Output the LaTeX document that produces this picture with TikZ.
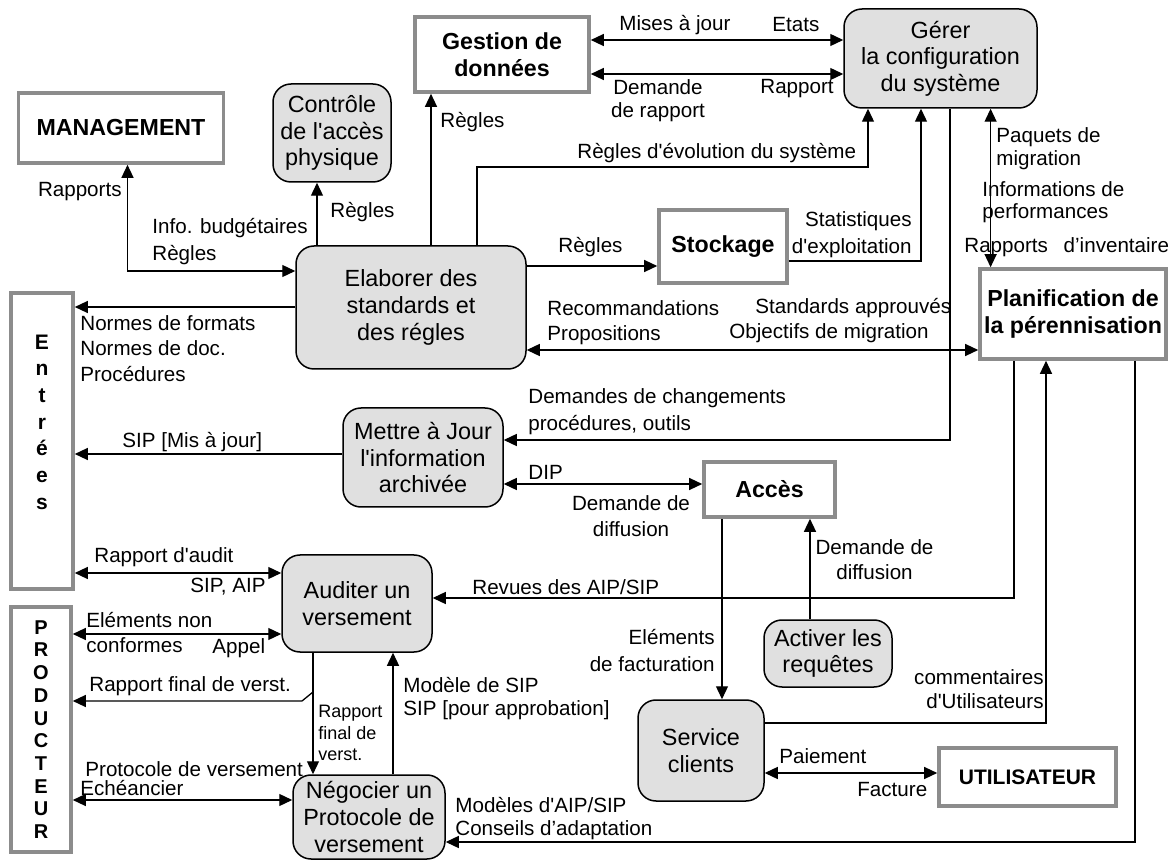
\documentclass[tikz,border=0pt]{standalone}
\usepackage{fontspec}
\setmainfont{Liberation Sans}
\usepackage{tikz}
\usetikzlibrary{arrows.meta}
\definecolor{framegray}{RGB}{140,140,140}
\definecolor{procgray}{RGB}{224,224,224}
\newcommand{\aps}{\textquotesingle}
\tikzset{
	% Two box styles: external entities (grey frame) and functions (rounded, filled)
	entity box/.style={draw=framegray,line width=1.8pt,fill=white,inner sep=0pt,align=center,font=\fontsize{11.6}{13.5}\selectfont\bfseries},
	process node/.style={draw,line width=0.75pt,rounded corners=9pt,fill=procgray,inner sep=0pt,align=center,font=\fontsize{11.7}{13.3}\selectfont},
	% data flows, one way or both ways
	flow/.style={line width=0.65pt,-{Triangle[length=6.5pt,width=6pt]}},
	both flow/.style={line width=0.65pt,{Triangle[length=6.5pt,width=6pt]}-{Triangle[length=6.5pt,width=6pt]}},
	flow label/.style={inner sep=0pt,align=left,font=\fontsize{10.3}{12}\selectfont}
}

\begin{document}
\begin{tikzpicture}[x=0.5pt,y=-0.5pt]
	% macro for placing the flow labels
	\newcommand{\flowlabel}[4][anchor=west]{\node[flow label,#1](#2)at(#3){#4};}
	\useasboundingbox (0,0) rectangle (1169,861);
	
	% external entities
	\node(mgmt)[entity box,minimum width=102.5pt,minimum height=35pt] at (121,128){MANAGEMENT};
	\node(gestion)[entity box,minimum width=87pt,minimum height=37.5pt] at (502,54.5){Gestion de\\donn\'ees};
	\node(stock)[entity box,minimum width=64pt,minimum height=36.5pt] at (723,246.5){Stockage};
	\node(planif)[entity box,minimum width=93pt,minimum height=45pt] at (1073,314){Planification de\\la pérennisation};
	\node(entrees)[entity box,minimum width=31pt,minimum height=148pt] at (42,441){};
	\node(entreestext)[font=\fontsize{10.5}{13.35}\selectfont\bfseries,align=center,inner sep=0pt] at (42,422){E\\n\\t\\r\\é\\e\\s};
	\node(prod)[entity box,minimum width=30pt,minimum height=122.5pt,font=\fontsize{10}{11.35}\selectfont\bfseries] at (41,729.5){P\\R\\O\\D\\U\\C\\T\\E\\U\\R};
	\node(acces)[entity box,minimum width=65.5pt,minimum height=27.5pt] at (769.5,489.5){Accès};
	\node(user)[entity box,minimum width=88.5pt,minimum height=29pt,font=\fontsize{10.5}{12.5}\selectfont\bfseries] at (1027.5,777){UTILISATEUR};
	
	% functions
	\node(ctrl)[process node,minimum width=59pt,minimum height=49pt] at (332,133){Contrôle\\de l\aps accès\\physique};
	\node(gerer)[process node,minimum width=96.5pt,minimum height=49.5pt] at (940.5,58.5){Gérer\\la configuration\\du système};
	\node(elab)[process node,minimum width=115pt,minimum height=61.5pt] at (411,307.5){Elaborer des\\standards et\\des régles};
	\node(mettre)[process node,minimum width=80pt,minimum height=49.5pt] at (423,457.5){Mettre à Jour\\l\aps information\\archivée};
	\node(auditer)[process node,minimum width=75pt,minimum height=48.5pt] at (357,603.5){Auditer un\\versement};
	\node(negoc)[process node,minimum width=76pt,minimum height=42pt] at (369,817){Négocier un\\Protocole de\\versement};
	\node(activer)[process node,minimum width=64pt,minimum height=33.5pt] at (828,653.5){Activer les\\requêtes};
	\node(service)[process node,minimum width=63pt,minimum height=50.5pt] at (701,750.5){Service\\clients};
	
	% bends
	\coordinate (evolbend) at (868,167);
	\coordinate (finalsplit) at (313,692);
	
	% data flows
	\draw[both flow] (mgmt.south -| 127.5,0) |- (elab.west |- 0,271);
	\draw[flow] (elab.north -| 317,0) -- (ctrl.south -| 317,0);
	\draw[flow] (elab.north -| 431,0) -- (gestion.south -| 431,0);
	\draw[flow] (elab.north -| 477,0) |- (evolbend) -- (gerer.south -| evolbend);
	\draw[both flow] (gestion.east |- 0,40) -- (gerer.west |- 0,40);
	\draw[both flow] (gestion.east |- 0,74) -- (gerer.west |- 0,74);
	\draw[flow] (stock.east |- 0,261) -| (gerer.south -| 921,0);
	\draw[flow] (gerer.south -| 950,0) |- (mettre.east |- 0,440);
	\draw[both flow] (gerer.south -| 990.6,0) -- (planif.north -| 990.6,0);
	\draw[flow] (elab.east |- 0,266) -- (stock.west |- 0,266);
	\draw[both flow] (elab.east |- 0,350) -- (planif.west |- 0,350);
	\draw[flow] (elab.west |- 0,307) -- (entrees.east |- 0,307);
	\draw[flow] (mettre.west |- 0,454) -- (entrees.east |- 0,454);
	\draw[both flow] (mettre.east |- 0,484) -- (acces.west |- 0,484);
	\draw[flow] (acces.south -| 722,0) -- (service.north -| 722,0);
	\draw[flow] (activer.north -| 810,0) -- (acces.south -| 810,0);
	\draw[flow] (planif.south -| 1014,0) |- (auditer.east |- 0,598);
	\draw[flow] (service.east |- 0,723) -| (planif.south -| 1046,0);
	\draw[flow] (planif.south -| 1135,0) |- (negoc.east |- 0,842);
	\draw[both flow] (entrees.east |- 0,573) -- (auditer.west |- 0,573);
	\draw[both flow] (prod.east |- 0,634) -- (auditer.west |- 0,634);
	\draw[flow] (auditer.south -| finalsplit) -- (negoc.north -| finalsplit);
	\draw[flow] (finalsplit) -- ++(-11,9) -- (prod.east |- 0,701);
	\draw[flow] (negoc.north -| 393,0) -- (auditer.south -| 393,0);
	\draw[both flow] (prod.east |- 0,800) -- (negoc.west |- 0,800);
	\draw[both flow] (service.east |- 0,773) -- (user.west |- 0,773);
	
	% labels
	\flowlabel[anchor=east]{lrapports}{122,192}{Rapports}
	\flowlabel{lbudget}{152,241.5}{Info. budgétaires\\[1.5pt]Règles}
	\flowlabel{lregctrl}{330,212}{Règles}
	\flowlabel{lreggest}{440,122}{Règles}
	\flowlabel{levol}{577,153}{Règles d\aps évolution du système}
	\flowlabel{lmaj}{619,25}{Mises à jour}
	\flowlabel{letats}{772,25}{Etats}
	\flowlabel[anchor=center,align=center]{ldemrap}{658,100.5}{Demande\\[-0.5pt]de rapport}
	\flowlabel{lrapport}{760,89}{Rapport}
	\flowlabel[anchor=east,align=right]{lstat}{912,234.5}{Statistiques\\[1.5pt]d\aps exploitation}
	\flowlabel{lpaquets}{996,148.5}{Paquets de\\[-0.5pt]migration}
	\flowlabel{linfos}{982,202}{Informations de\\[-1pt]performances}
	\flowlabel{linvent}{964,247}{Rapports\hspace{5pt} d'inventaire}
	\flowlabel{lregstock}{558,247}{Règles}
	\flowlabel{lrecom}{547,322.5}{Recommandations\\[0.5pt]Propositions}
	\flowlabel{lstand}{755,308}{Standards approuvés}
	\flowlabel{lobjectifs}{729,333}{Objectifs de migration}
	\flowlabel{lnormes}{80,348.5}{Normes de formats\\[0.75pt]Normes de doc.\\[0.75pt]Procédures}
	\flowlabel{lsipmaj}{122,442}{SIP [Mis à jour]}
	\flowlabel{ldemchg}{528,411.5}{Demandes de changements\\[1.5pt]procédures, outils}
	\flowlabel{ldip}{528,472}{DIP}
	\flowlabel[anchor=center,align=center]{ldemdiff}{631,516}{Demande de\\[1pt]diffusion}
	\flowlabel[anchor=east,align=right]{lfactu}{715,650.5}{Eléments\\[1.5pt]de facturation}
	\flowlabel[anchor=center,align=center]{ldemdiffb}{874.5,559.5}{Demande de\\[0.5pt]diffusion}
	\flowlabel{lrevues}{472,587}{Revues des AIP/SIP}
	\flowlabel[anchor=east,align=right]{lcomment}{1044,689}{commentaires\\d\aps Utilisateurs}
	\flowlabel{lmodeles}{455,818.5}{Modèles d\aps AIP/SIP\\[-0.5pt]Conseils d'adaptation}
	\flowlabel{laudit}{94,557}{Rapport d\aps audit}
	\flowlabel[anchor=east]{lsipaip}{266,587}{SIP, AIP}
	\flowlabel{lnonconf}{86,632.5}{Eléments non\\[0.5pt]conformes}
	\flowlabel{lappel}{212,648}{Appel}
	\flowlabel{lfinal}{89,686}{Rapport final de verst.}
	\flowlabel[anchor=west,font=\fontsize{9}{10.75}\selectfont]{lfinalb}{318,733}{Rapport\\final de\\verst.}
	\flowlabel{lmodsip}{403,698.5}{Modèle de SIP\\[-0.5pt]SIP [pour approbation]}
	\flowlabel{lprotocole}{85,769}{Protocole de versement}
	\flowlabel{lecheance}{80,788}{Echéancier}
	\flowlabel{lpaiement}{779,756}{Paiement}
	\flowlabel{lfacture}{857,790}{Facture}
\end{tikzpicture}
\end{document}
